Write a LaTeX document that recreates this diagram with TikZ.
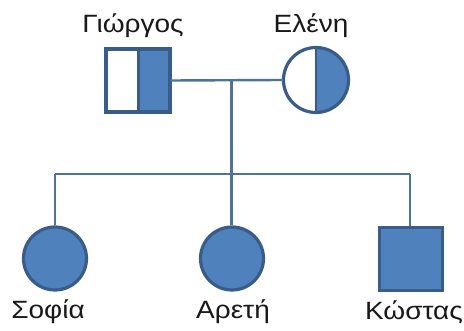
\documentclass[tikz,border=0pt]{standalone}
\usepackage{fontspec}
\setmainfont{Liberation Sans}
\definecolor{pfill}{HTML}{4F81BD}
\definecolor{pedge}{HTML}{3A5C89}
\definecolor{pline}{HTML}{4D729C}
\tikzset{
  person/.style={draw=pedge, line width=3.2pt},
  link/.style={draw=pline, line width=2.4pt},
  lbl/.style={anchor=base, inner sep=0pt, font=\fontsize{25}{29}\selectfont, text=black!90},
}
\newcommand{\wide}[1]{\scalebox{1.12}[1]{#1}}
\begin{document}
\begin{tikzpicture}[x=1pt, y=-1pt]
\useasboundingbox (0,0) rectangle (464,331);
% parents
\fill[pfill] (138,49) rectangle (170,112);
\draw[person, line width=4pt] (106,49) rectangle (170,112);
\draw[person, line width=3pt] (138,49) -- (138,112);
\node[minimum width=64pt, minimum height=63pt, inner sep=0pt] (g) at (138,80.5) {};
\fill[pfill] (316,47.5) arc[start angle=90, end angle=-90, radius=32.5pt] -- cycle;
\draw[person] (316,80) circle[radius=32.5pt];
\draw[person, line width=2.6pt] (316,47.5) -- (316,112.5);
\node[circle, minimum size=65pt, inner sep=0pt] (e) at (316,80) {};
% children
\node[circle, person, fill=pfill, minimum size=63pt, inner sep=0pt] (s) at (55,258.5) {};
\node[circle, person, fill=pfill, minimum size=63pt, inner sep=0pt] (a) at (232,258.5) {};
\node[person, fill=pfill, minimum size=63pt, inner sep=0pt] (k) at (411,259) {};
% connectors
\coordinate (m) at (231.5,80);
\coordinate (d) at (231.5,174);
\coordinate (sl) at (55,174);
\coordinate (sr) at (410,174);
\draw[link] (g.east) -- (e.west);
\draw[link] (m) -- (d);
\draw[link] (sl) -- (sr);
\draw[link] (sl) -- (s.north);
\draw[link] (d) -- (d |- a.north);
\draw[link] (sr) -- (sr |- k.north);
% labels
\node[lbl] (lg) at (133,33) {\wide{Γιώργος}};
\node[lbl] (le) at (311,33) {\wide{Ελένη}};
\node[lbl] (ls) at (48,319) {\wide{Σοφία}};
\node[lbl] (la) at (233,319) {\wide{Αρετή}};
\node[lbl] (lk) at (414,320) {\wide{Κώστας}};
\end{tikzpicture}
\end{document}
